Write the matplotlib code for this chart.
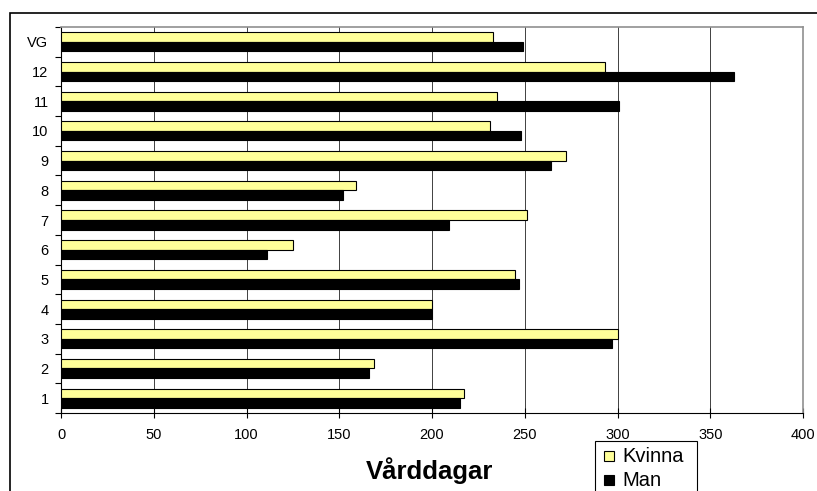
import matplotlib.pyplot as plt
import numpy as np
from matplotlib.patches import Rectangle

plt.rcParams['font.family'] = ['Liberation Sans', 'DejaVu Sans']

categories = ['1', '2', '3', '4', '5', '6', '7', '8', '9', '10', '11', '12', 'VG']
kvinna = [217, 169, 300, 200, 245, 125, 251, 159, 272, 231, 235, 293, 233]
man = [215, 166, 297, 200, 247, 111, 209, 152, 264, 248, 301, 363, 249]
series_names = ['Kvinna', 'Man']
series_colors = ['#FFFF99', 'black']

W, H = 817, 491
fig = plt.figure(figsize=(W/100, H/100), dpi=100)
ax = fig.add_axes([61/W, 1 - 413/H, (803 - 61)/W, (413 - 27)/H])

y = np.arange(len(categories))
h = 0.32
ax.barh(y + h/2, kvinna, height=h, color=series_colors[0], edgecolor='black', linewidth=0.8, zorder=3)
ax.barh(y - h/2, man, height=h, color=series_colors[1], edgecolor='black', linewidth=0.8, zorder=3)

ax.set_xlim(0, 400)
ax.set_ylim(-0.5, len(categories) - 0.5)
ax.set_xticks(np.arange(0, 401, 50))
ax.set_yticks(y)
ax.set_yticklabels(categories)
ax.set_yticks(np.arange(-0.5, len(categories), 1), minor=True)
ax.tick_params(axis='y', which='major', length=0, pad=9, labelsize=10.5)
ax.tick_params(axis='y', which='minor', length=4, width=0.8, direction='out')
ax.tick_params(axis='x', length=7, width=0.8, direction='inout', pad=7, labelsize=10.5)

ax.grid(axis='x', color='#404040', linewidth=0.7, zorder=0)
ax.set_axisbelow(True)
for s in ['top', 'right']:
    ax.spines[s].set_color('#909090')
    ax.spines[s].set_linewidth(1.2)
for s in ['left', 'bottom']:
    ax.spines[s].set_color('black')
    ax.spines[s].set_linewidth(0.8)

fig.text(430/W, 1 - 471/H, 'Vårddagar', ha='center', va='center', fontsize=18.5, fontweight='bold')

# outer chart frame (runs off the right and bottom edge)
fig.patches.append(Rectangle((10/W, -0.2), 1.2, 1.2 - 13/H, transform=fig.transFigure,
                             fill=False, edgecolor='black', linewidth=1.2, clip_on=False))

# legend box, cut off by the bottom edge like in the original
fig.patches.append(Rectangle((595/W, -0.2), (697 - 595)/W, 0.2 + 1 - 441/H, transform=fig.transFigure,
                             facecolor='white', edgecolor='black', linewidth=0.8, clip_on=False, zorder=5))
for i, (name, col) in enumerate(zip(series_names, series_colors)):
    yc = 456 + 24*i
    fig.patches.append(Rectangle((604/W, 1 - (yc + 5)/H), 10/W, 10/H, transform=fig.transFigure,
                                 facecolor=col, edgecolor='black', linewidth=0.8, zorder=6))
    fig.text(622/W, 1 - yc/H, name, ha='left', va='center', fontsize=14.5, zorder=6)

fig.savefig('out.png', dpi=100)
